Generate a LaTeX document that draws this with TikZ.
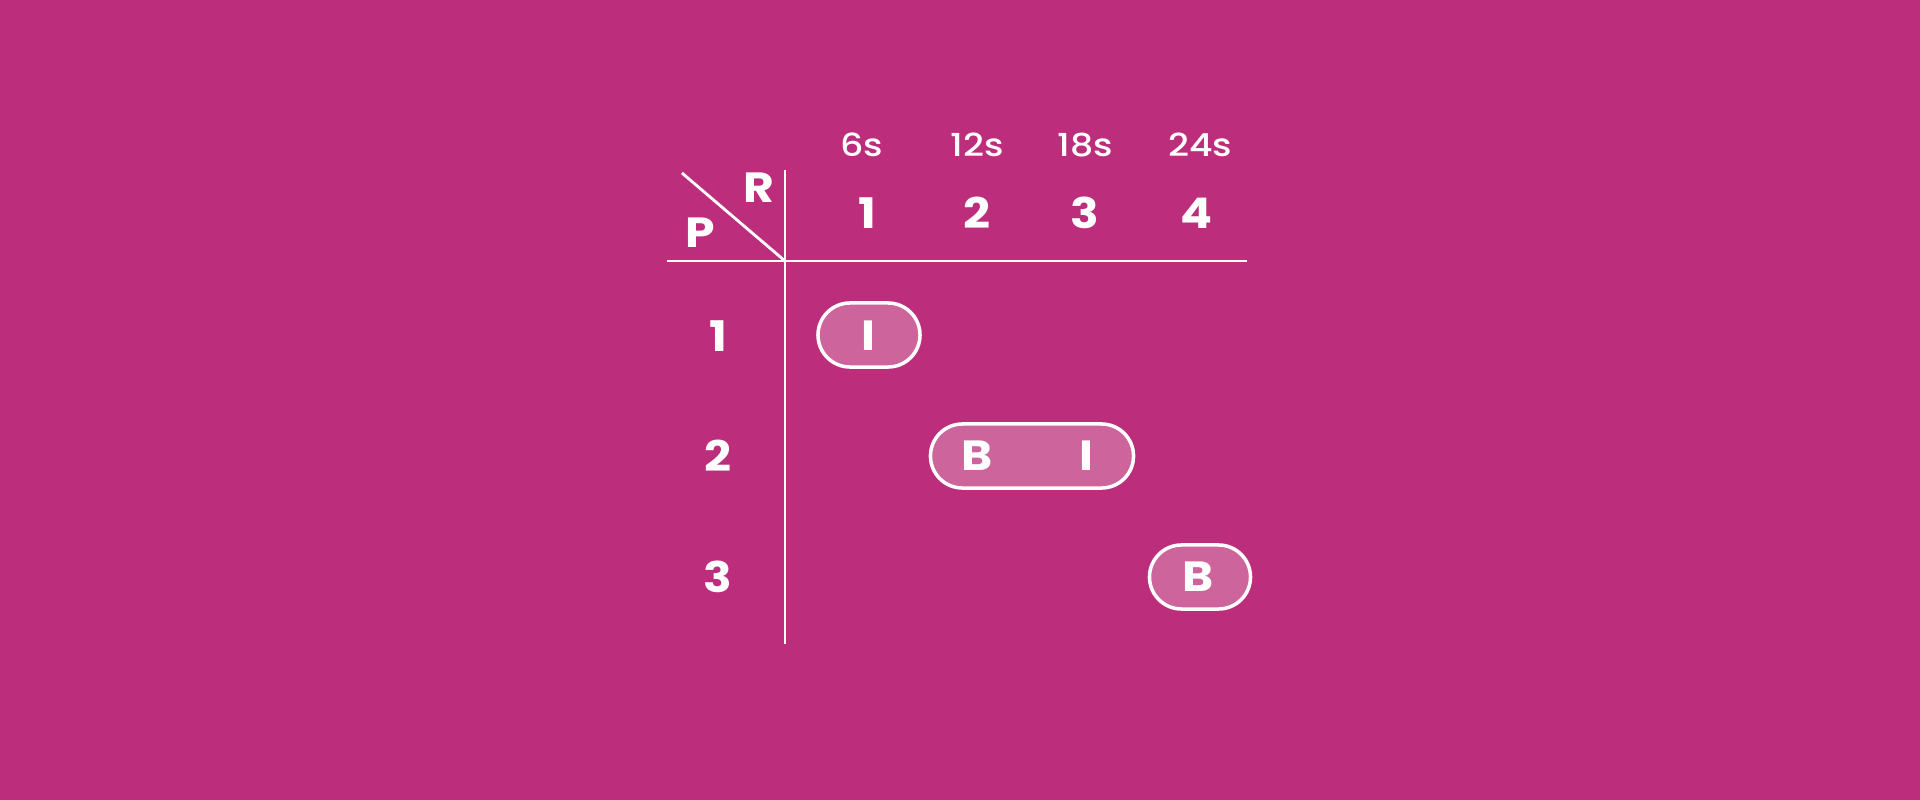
\documentclass[tikz,border=0pt]{standalone}
\usepackage{fontspec}
\setmainfont{Poppins}[FakeStretch=1.12]
\newfontfamily\medfont{Poppins Medium}[FakeStretch=1.15]
\definecolor{bgpink}{HTML}{BC2E7C}
\definecolor{pillpink}{HTML}{CD649C}

\begin{document}
\begin{tikzpicture}[x=0.01cm,y=-0.01cm,
  grid/.style={draw=white,line width=0.8pt},
  pill/.style={draw=white,line width=1pt,fill=pillpink,rounded corners=0.32cm,
    minimum height=0.64cm,inner sep=0pt},
  big/.style={text=white,font=\fontsize{12}{14}\selectfont\bfseries},
  small/.style={text=white,font=\fontsize{9}{11}\selectfont\medfont}]
  \fill[bgpink] (0,0) rectangle (1920,800);

  % Grid lines
  \coordinate (vtop) at (785,170);
  \coordinate (vbot) at (785,644);
  \coordinate (hleft) at (667,261);
  \coordinate (hright) at (1247,261);
  \coordinate (corner) at (785,261);
  \coordinate (diag) at (682,173);
  \draw[grid] (vtop) to (vbot);
  \draw[grid] (hleft) to (hright);
  \draw[grid] (diag) to (corner);

  % Corner labels
  \node[big] (R) at (759,188) {R};
  \node[big] (P) at (700,233) {P};

  % Times
  \node[small] (t1) at (862,145) {6s};
  \node[small] (t2) at (977,145) {12s};
  \node[small] (t3) at (1085,145) {18s};
  \node[small] (t4) at (1200,145) {24s};

  % Column numbers
  \node[big] (c1) at (867,213) {1};
  \node[big] (c2) at (977,213) {2};
  \node[big] (c3) at (1085,213) {3};
  \node[big] (c4) at (1196,213) {4};

  % Row numbers
  \node[big] (r1) at (718,336) {1};
  \node[big] (r2) at (718,456) {2};
  \node[big] (r3) at (718,577) {3};

  % Pills
  \node[pill,minimum width=1.02cm] (p1) at (869,335) {};
  \node[pill,minimum width=2.03cm] (p2) at (1032,456) {};
  \node[pill,minimum width=1.01cm] (p3) at (1200,577) {};

  % Pill letters
  \node[big] (i1) at (868,336) {I};
  \node[big] (b2) at (977,456) {B};
  \node[big] (i2) at (1086,456) {I};
  \node[big] (b3) at (1198,577) {B};

\end{tikzpicture}
\end{document}
